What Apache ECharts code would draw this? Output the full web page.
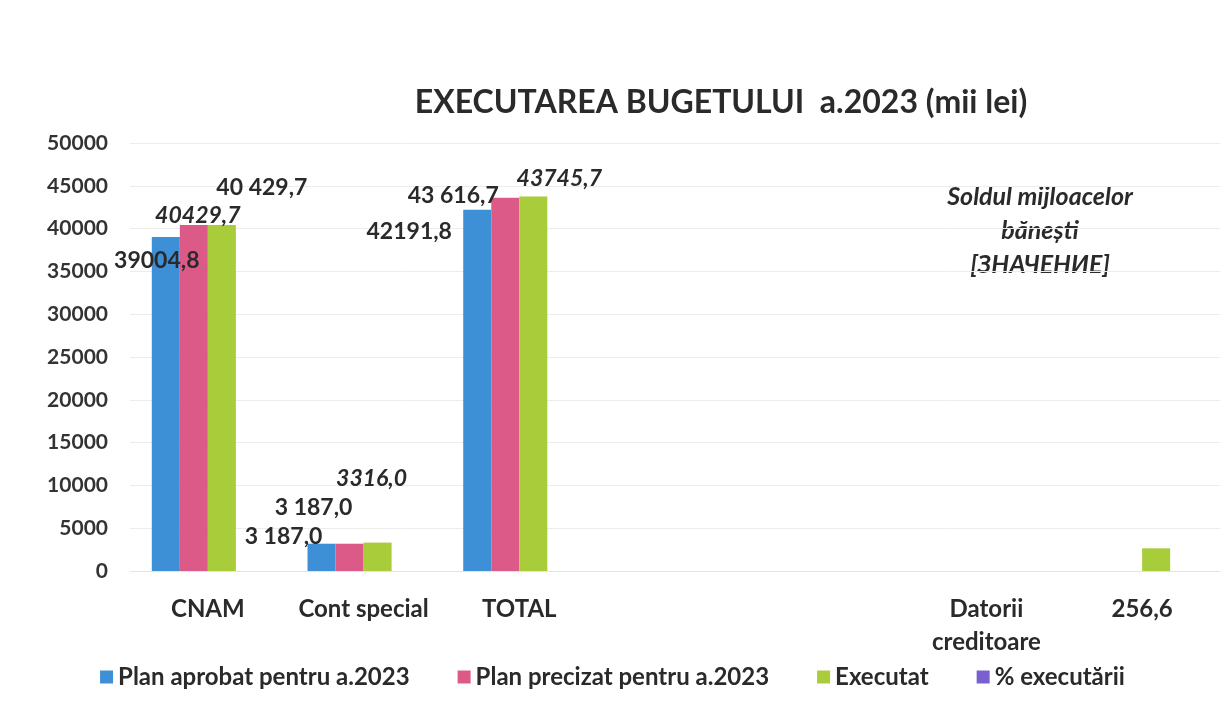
<!DOCTYPE html>
<html>
<head>
    <meta charset="utf-8">
    <title>Executarea bugetului 2023</title>
    <script src="https://cdn.jsdelivr.net/npm/echarts@6/dist/echarts.min.js"></script>
    <style>
        html, body {
            margin: 0;
            padding: 0;
            background: #ffffff;
        }

        #chart {
            width: 1225px;
            height: 712px;
        }
    </style>
</head>
<body>
<div id="chart"></div>
<script>
    // date
    var categories = ['CNAM', 'Cont special', 'TOTAL', '', '', 'Datorii\ncreditoare', '256,6'];
    var planAprobat = [39004.8, 3187.0, 42191.8, null, null, null, null];
    var planPrecizat = [40429.7, 3187.0, 43616.7, null, null, null, null];
    var executat = [40429.7, 3316.0, 43745.7, null, null, null, 2650];
    var procentExecutare = [null, null, null, null, null, null, null];

    var labelsAprobat = ['39004,8', '3 187,0', '42191,8'];
    var labelsPrecizat = ['40429,7', '3 187,0', '43 616,7'];
    var labelsExecutat = ['40 429,7', '3316,0', '43745,7'];

    var font = 'Lato, "Open Sans", sans-serif';

    // etichetele au fost mutate manual in Excel, le pun cu offset
    function withLabels(values, texts, offsets, italic) {
        return values.map(function (v, i) {
            if (v == null || !texts[i]) return v;
            return {
                value: v,
                label: {
                    show: true,
                    position: 'top',
                    distance: 0,
                    offset: offsets[i],
                    formatter: texts[i],
                    fontFamily: font,
                    fontWeight: 'bold',
                    fontStyle: italic[i] ? 'italic' : 'normal',
                    fontSize: 23,
                    lineHeight: 28,
                    color: '#2a2a2a'
                }
            };
        });
    }

    var chart = echarts.init(document.getElementById('chart'));

    var option = {
        backgroundColor: '#ffffff',
        title: {
            text: 'EXECUTAREA BUGETULUI  a.2023 (mii lei)',
            left: 716,
            top: 82,
            textAlign: 'center',
            textStyle: {
                fontFamily: font,
                fontWeight: 'bold',
                fontSize: 32,
                color: '#2a2a2a'
            }
        },
        legend: {
            bottom: 18,
            left: 'center',
            itemWidth: 13,
            itemHeight: 13,
            itemGap: 48,
            icon: 'rect',
            textStyle: {
                fontFamily: font,
                fontWeight: 'bold',
                fontSize: 24,
                color: '#2a2a2a'
            },
            data: ['Plan aprobat pentru a.2023', 'Plan precizat pentru a.2023', 'Executat', '% executării']
        },
        grid: {
            left: 130,
            right: 5,
            top: 143,
            bottom: 141
        },
        xAxis: {
            type: 'category',
            data: categories,
            axisTick: {show: false},
            axisLine: {lineStyle: {color: '#e4e4e4'}},
            axisLabel: {
                margin: 22,
                interval: 0,
                fontFamily: font,
                fontWeight: 'bold',
                fontSize: 24,
                lineHeight: 33,
                color: '#2a2a2a'
            }
        },
        yAxis: {
            type: 'value',
            min: 0,
            max: 50000,
            interval: 5000,
            axisLine: {show: false},
            axisTick: {show: false},
            splitLine: {lineStyle: {color: '#ececec'}},
            axisLabel: {
                margin: 22,
                formatter: function (v) { return String(v); },
                fontFamily: font,
                fontWeight: 'bold',
                fontSize: 21,
                color: '#333333'
            }
        },
        graphic: [{
            type: 'text',
            x: 1040,
            y: 180,
            style: {
                text: 'Soldul mijloacelor\nbănești\n[ЗНАЧЕНИЕ]',
                align: 'center',
                fontFamily: font,
                fontWeight: 'bold',
                fontStyle: 'italic',
                fontSize: 25,
                lineHeight: 34,
                fill: '#2a2a2a'
            }
        }],
        series: [
            {
                name: 'Plan aprobat pentru a.2023',
                type: 'bar',
                barGap: '0%',
                barCategoryGap: '28%',
                itemStyle: {color: '#3d8fd6'},
                data: withLabels(planAprobat, labelsAprobat,
                    [[-9, 37], [-38, 7], [-68, 36]], [false, false, false])
            },
            {
                name: 'Plan precizat pentru a.2023',
                type: 'bar',
                itemStyle: {color: '#dc5a87'},
                data: withLabels(planPrecizat, labelsPrecizat,
                    [[4, 5], [-36, -22], [-52, 12]], [true, false, false])
            },
            {
                name: 'Executat',
                type: 'bar',
                itemStyle: {color: '#a8cc3a'},
                data: withLabels(executat, labelsExecutat,
                    [[40, -23], [-6, -50], [26, -4]], [false, true, true])
            },
            {
                name: '% executării',
                type: 'bar',
                itemStyle: {color: '#7a5fd0'},
                data: procentExecutare
            }
        ]
    };

    chart.setOption(option);
</script>
</body>
</html>
